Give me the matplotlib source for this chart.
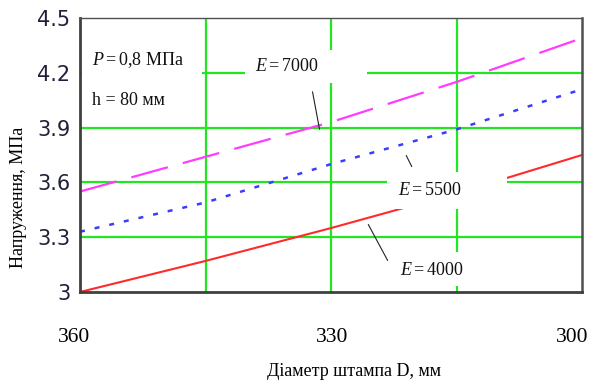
import matplotlib.pyplot as plt
from matplotlib.patches import Rectangle
from matplotlib.transforms import ScaledTranslation

plt.rcParams['mathtext.fontset'] = 'custom'
plt.rcParams['mathtext.rm'] = 'Liberation Serif'
plt.rcParams['mathtext.it'] = 'Liberation Serif:italic'

# Stress vs punch diameter for three moduli
diameter = [360, 345, 330, 315, 300]
sigma_4000 = [3.00, 3.17, 3.35, 3.54, 3.75]
sigma_5500 = [3.33, 3.49, 3.70, 3.89, 4.11]
sigma_7000 = [3.55, 3.74, 3.93, 4.15, 4.39]

y_ticks = [3.0, 3.3, 3.6, 3.9, 4.2, 4.5]
y_tick_labels = ['3', '3.3', '3.6', '3.9', '4.2', '4.5']
x_ticks = [360, 330, 300]
x_grid = [345, 330, 315]

serif = 'Liberation Serif'

fig = plt.figure(figsize=(5.92, 3.8), dpi=100)
ax = fig.add_axes([80 / 592, 88 / 380, 502 / 592, 274 / 380])

ax.set_xlim(360, 300)
ax.set_ylim(3.0, 4.5)

# green grid
for yv in y_ticks[1:-1]:
    ax.axhline(yv, color='#22e622', lw=1.6, zorder=1)
for xv in x_grid:
    ax.axvline(xv, color='#22e622', lw=1.6, zorder=1)

ax.plot(diameter, sigma_7000, color='#ff3cff', lw=1.6, dashes=(17, 7), zorder=2)
ax.plot(diameter, sigma_5500, color='#3c3cff', lw=1.8, dashes=(2, 4), zorder=2)
ax.plot(diameter, sigma_4000, color='#ff2a2a', lw=1.5, zorder=2)

# white label areas that interrupt grid and curves
boxes = [
    (359.76, 3.95, 345.42, 4.40),
    (340.28, 4.144, 325.70, 4.325),
    (323.30, 3.454, 308.96, 3.657),
    (322.95, 3.033, 313.39, 3.219),
]
for x0, y0, x1, y1 in boxes:
    ax.add_patch(Rectangle((x0, y0), x1 - x0, y1 - y0, facecolor='white',
                           edgecolor='none', zorder=3))

txt = dict(family=serif, fontsize=13, color='#111111', va='center', ha='left', zorder=5)
ax.text(358.57, 4.27, r'$P = 0{,}8$ МПа', **txt)
ax.text(358.57, 4.05, 'h = 80 мм', **txt)
ax.text(339.08, 4.232, r'$E = 7000$', **txt)
ax.text(321.99, 3.558, r'$E = 5500$', **txt)
ax.text(321.75, 3.12, r'$E = 4000$', **txt)

leader = dict(arrowstyle='-', color='#222222', lw=0.8)
ax.annotate('', xy=(331.31, 3.876), xytext=(332.27, 4.111), arrowprops=leader, zorder=4)
ax.annotate('', xy=(320.20, 3.673), xytext=(321.16, 3.761), arrowprops=leader, zorder=4)
ax.annotate('', xy=(323.07, 3.159), xytext=(325.70, 3.383), arrowprops=leader, zorder=4)

ax.set_yticks(y_ticks)
ax.set_yticklabels(y_tick_labels, fontsize=15, color='#20203a', family='DejaVu Sans')
ax.set_xticks(x_ticks)
ax.set_xticklabels([str(v) for v in x_ticks], fontsize=15.5, family=serif, color='black')
ax.tick_params(axis='both', length=0)
ax.tick_params(axis='y', pad=7)
ax.tick_params(axis='x', pad=26)

shifts = [-6, 1, -10]
for lab, dx in zip(ax.get_xticklabels(), shifts):
    lab.set_transform(lab.get_transform() + ScaledTranslation(dx / 100, 0, fig.dpi_scale_trans))

for side in ['left', 'bottom']:
    ax.spines[side].set_linewidth(2.0)
    ax.spines[side].set_color('#404040')
ax.spines['right'].set_linewidth(1.8)
ax.spines['right'].set_color('#505050')
ax.spines['top'].set_linewidth(1.0)
ax.spines['top'].set_color('#505050')
for s in ax.spines.values():
    s.set_zorder(6)

fig.text(19 / 592, 183 / 380, 'Напруження, МПа', rotation=90, ha='center',
         va='center', family=serif, fontsize=13)
fig.text(354 / 592, 17 / 380, 'Діаметр штампа D, мм', ha='center', va='top',
         family=serif, fontsize=13)

fig.savefig('out.png', dpi=100)
